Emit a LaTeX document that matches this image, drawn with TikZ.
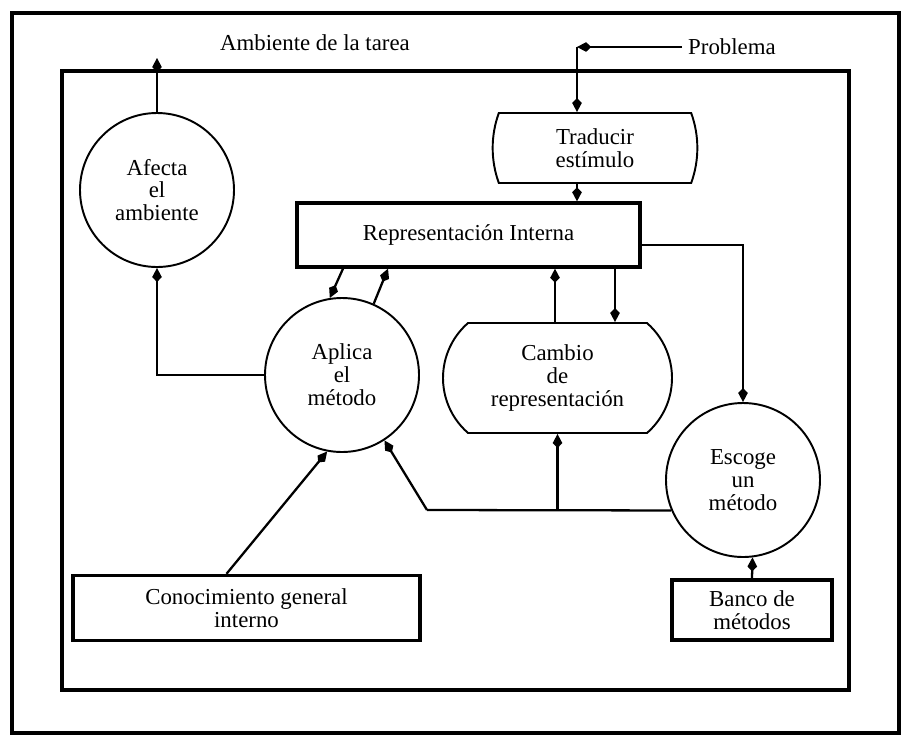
\documentclass[tikz,border=0pt]{standalone}
\usepackage{fontspec}
\setmainfont{Liberation Serif}
\usetikzlibrary{arrows.meta, positioning, shapes.misc}

\begin{document}
\begin{tikzpicture}[
  every node/.style={font=\fontsize{13}{13}\selectfont, align=center},
  proc/.style={circle, draw, line width=1.1pt, minimum size=3.08cm, inner sep=0pt},
  store/.style={rectangle, draw, line width=1.9pt, inner sep=2pt},
  xform/.style={rounded rectangle, draw, line width=1.1pt, inner sep=0pt},
  link/.style={line width=1.3pt},
  tolink/.style={link, -{Kite[length=8pt,width=5.5pt,inset=2.8pt]}},
  frame/.style={line width=2pt}
]
  \useasboundingbox (0,0) rectangle (18.04,-14.86);

  % marcos
  \draw[frame] (0.24,-0.26) rectangle (17.98,-14.66);
  \draw[frame] (1.24,-1.42) rectangle (16.98,-13.8);

  \node (amb)  at (6.3,-0.86)   {Ambiente de la tarea};
  \node (prob) at (14.64,-0.94) {Problema};

  \node[proc] (afecta) at (3.14,-3.8)  {Afecta\\el\\ambiente};
  \node[proc] (aplica) at (6.84,-7.5)  {Aplica\\el\\método};
  \node[proc] (escoge) at (14.86,-9.6) {Escoge\\un\\método};

  \node[xform, minimum width=3.4cm, minimum height=1.4cm,
        rounded rectangle arc length=40] (trad) at (11.9,-2.96) {Traducir\\estímulo};
  \node[xform, minimum width=4.58cm, minimum height=2.2cm,
        rounded rectangle arc length=98] (cambio) at (11.15,-7.56) {Cambio\\de\\representación};

  \node[store, minimum width=6.86cm, minimum height=1.28cm] (rep)   at (9.37,-4.7)   {Representación Interna};
  \node[store, minimum width=3.2cm,  minimum height=1.2cm]  (banco) at (15.04,-12.2) {Banco de\\métodos};
  \node[store, minimum width=6.94cm, minimum height=1.3cm]  (conoc) at (4.93,-12.16) {Conocimiento general\\interno};

  \coordinate (ambout) at (3.14,-1.16);
  \coordinate (jn) at (8.54,-10.2);
  \coordinate (rA) at ([xshift=-2.51cm]rep.south);
  \coordinate (rB) at ([xshift=-1.61cm]rep.south);
  \coordinate (rC) at ([xshift=1.73cm]rep.south);
  \coordinate (rD) at ([xshift=2.93cm]rep.south);
  \coordinate (rE) at ([yshift=-0.2cm]rep.east);
  \coordinate (tS) at ([xshift=-0.36cm]trad.south);
  \coordinate (pc) at (prob.west -| tS);

  \draw[tolink] (afecta.north) -- (ambout);
  \draw[tolink] (prob.west) -- (pc);
  \draw[tolink] (pc) -- (pc |- trad.north);
  \draw[tolink] (tS) -- (tS |- rep.north);
  \draw[tolink] (rE) -| (escoge.north);
  \draw[tolink] (aplica.west) -| (afecta.south);
  \draw[tolink] (rA) -- (aplica.99);
  \draw[tolink] (aplica.66) -- (rB);
  \draw[tolink] (rC |- cambio.north) -- (rC);
  \draw[tolink] (rD) -- (rD |- cambio.north);
  \draw[link] (escoge.203) -- (jn);
  \draw[tolink] (jn) -- (aplica.-57);
  \draw[tolink] (cambio.south |- jn) -- (cambio.south);
  \draw[tolink] (banco.north) -- (escoge.-83);
  \draw[tolink] ([xshift=-0.4cm]conoc.north) -- (aplica.-101);
\end{tikzpicture}
\end{document}
